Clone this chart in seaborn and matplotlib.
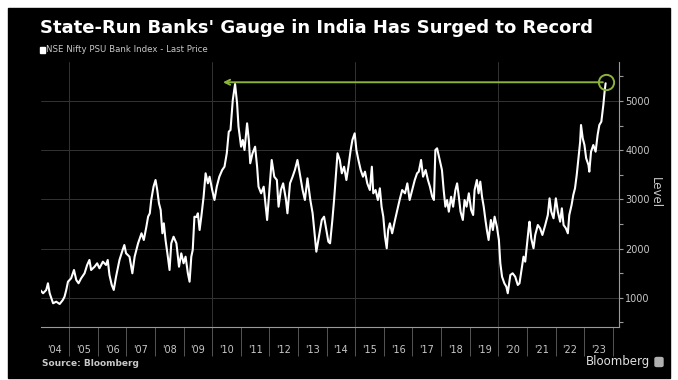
import matplotlib
matplotlib.use("Agg")
import matplotlib.pyplot as plt
import matplotlib.patches as mpatches
import seaborn as sns
import pandas as pd

W, H = 678, 380

# NSE Nifty PSU Bank Index (decimal year, level)
years = [
    2004.00, 2004.09, 2004.20, 2004.26, 2004.32, 2004.44, 2004.55, 2004.67, 2004.78, 2004.84, 2004.90, 2004.96,
    2005.07, 2005.17, 2005.25, 2005.33, 2005.42, 2005.54, 2005.63, 2005.71, 2005.77, 2005.89, 2005.98,
    2006.06, 2006.18, 2006.29, 2006.35, 2006.41, 2006.49, 2006.56, 2006.64, 2006.76, 2006.87, 2006.93, 2006.99,
    2007.11, 2007.21, 2007.29, 2007.41, 2007.53, 2007.61, 2007.70, 2007.76, 2007.82, 2007.87, 2007.95,
    2008.02, 2008.08, 2008.14, 2008.20, 2008.26, 2008.31, 2008.37, 2008.45, 2008.51, 2008.57, 2008.65, 2008.75,
    2008.84, 2008.92,
    2009.00, 2009.07, 2009.15, 2009.21, 2009.27, 2009.32, 2009.38, 2009.45, 2009.50, 2009.56, 2009.62, 2009.70,
    2009.77, 2009.85, 2009.91,
    2010.00, 2010.08, 2010.16, 2010.25, 2010.35, 2010.43, 2010.51, 2010.58, 2010.64, 2010.72, 2010.80, 2010.87,
    2010.92,
    2011.01, 2011.07, 2011.13, 2011.22, 2011.28, 2011.33, 2011.41, 2011.50, 2011.57, 2011.62, 2011.71, 2011.80,
    2011.86, 2011.92,
    2012.00, 2012.08, 2012.17, 2012.26, 2012.32, 2012.40, 2012.48, 2012.58, 2012.63, 2012.72, 2012.81, 2012.89,
    2012.98,
    2013.08, 2013.16, 2013.24, 2013.33, 2013.43, 2013.51, 2013.59, 2013.64, 2013.74, 2013.83, 2013.91, 2013.97,
    2014.06, 2014.12, 2014.20, 2014.26, 2014.32, 2014.38, 2014.46, 2014.53, 2014.61, 2014.69, 2014.76, 2014.84,
    2014.90, 2014.98,
    2015.04, 2015.11, 2015.19, 2015.27, 2015.34, 2015.42, 2015.51, 2015.58, 2015.63, 2015.71, 2015.79, 2015.86,
    2015.92, 2015.98,
    2016.04, 2016.10, 2016.15, 2016.21, 2016.29, 2016.39, 2016.47, 2016.55, 2016.64, 2016.74, 2016.82, 2016.90,
    2016.99,
    2017.08, 2017.16, 2017.22, 2017.30, 2017.37, 2017.46, 2017.54, 2017.61, 2017.69, 2017.75, 2017.80, 2017.86,
    2017.95,
    2018.03, 2018.09, 2018.15, 2018.21, 2018.27, 2018.35, 2018.42, 2018.50, 2018.56, 2018.62, 2018.68, 2018.76,
    2018.82, 2018.89, 2018.97,
    2019.05, 2019.12, 2019.17, 2019.25, 2019.31, 2019.37, 2019.43, 2019.49, 2019.55, 2019.60, 2019.66, 2019.74,
    2019.81, 2019.87, 2019.95,
    2020.02, 2020.07, 2020.13, 2020.21, 2020.28, 2020.33, 2020.42, 2020.50, 2020.59, 2020.68, 2020.74, 2020.82,
    2020.88, 2020.94,
    2021.00, 2021.06, 2021.09, 2021.15, 2021.23, 2021.29, 2021.38, 2021.46, 2021.54, 2021.64, 2021.73, 2021.79,
    2021.85, 2021.93,
    2022.01, 2022.08, 2022.16, 2022.22, 2022.28, 2022.36, 2022.43, 2022.48, 2022.56, 2022.62, 2022.68, 2022.74,
    2022.80, 2022.86, 2022.89, 2022.95,
    2023.01, 2023.07, 2023.15, 2023.18, 2023.24, 2023.32, 2023.40, 2023.47, 2023.53, 2023.60, 2023.67, 2023.72,
    2023.75,
]
level = [
    1150, 1090, 1156, 1293, 1090, 886, 919, 872, 953, 1020, 1157, 1325,
    1394, 1563, 1360, 1293, 1394, 1496, 1665, 1767, 1563, 1630, 1699,
    1598, 1732, 1665, 1767, 1461, 1258, 1157, 1427, 1767, 1970, 2071, 1903,
    1834, 1496, 1834, 2106, 2309, 2173, 2443, 2647, 2716, 2986, 3257,
    3393, 3189, 2919, 2783, 2309, 2512, 2173, 1834, 1563, 2106, 2240, 2106,
    1630, 1902,
    1699, 1834, 1496, 1325, 1834, 1970, 2647, 2640, 2716, 2376, 2647, 3053,
    3529, 3325, 3460,
    3189, 2986, 3257, 3460, 3596, 3663, 3936, 4375, 4409, 5019, 5345, 4952,
    4477,
    4070, 4206, 4003, 4545, 4206, 3733, 3936, 4070, 3663, 3257, 3122, 3257,
    2919, 2580,
    3189, 3800, 3460, 3393, 2850, 3189, 3325, 2986, 2716, 3325, 3460, 3596,
    3800,
    3460, 3189, 2986, 3427, 2986, 2716, 2240, 1935, 2280, 2580, 2647, 2443,
    2139, 2106, 2580, 2986, 3460, 3936, 3800, 3529, 3663, 3393, 3663, 4003,
    4206, 4342,
    4003, 3800, 3596, 3460, 3562, 3325, 3189, 3663, 3122, 3189, 2986, 3224,
    2850, 2647,
    2240, 2004, 2376, 2512, 2309, 2580, 2783, 2986, 3189, 3122, 3325, 2986,
    3189,
    3393, 3529, 3562, 3800, 3460, 3596, 3393, 3257, 3053, 2986, 4003, 4037,
    3800,
    3596, 3189, 2850, 2986, 2749, 3053, 2850, 3189, 3325, 3053, 2749, 2580,
    2986, 2850, 3122,
    2783, 2681, 3189, 3393, 3122, 3359, 3053, 2850, 2580, 2376, 2173, 2580,
    2376, 2647, 2443,
    2173, 1699, 1427, 1293, 1224, 1090, 1461, 1496, 1427, 1258, 1293, 1598,
    1834, 1732,
    2071, 2411, 2545, 2207, 2004, 2275, 2478, 2411, 2275, 2478, 2681, 3020,
    2749, 2614,
    3020, 2749, 2545, 2817, 2478, 2411, 2309, 2681, 2884, 3088, 3224, 3495,
    3834, 4172, 4511, 4240,
    4104, 3834, 3698, 3562, 3969, 4104, 3969, 4308, 4511, 4579, 4918, 5223,
    5359,
]
year_labels = ["'04", "'05", "'06", "'07", "'08", "'09", "'10", "'11", "'12", "'13",
               "'14", "'15", "'16", "'17", "'18", "'19", "'20", "'21", "'22", "'23"]
level_ticks = [1000, 2000, 3000, 4000, 5000]
record_level = 5380
arrow_tip_year = 2010.28

title = "State-Run Banks' Gauge in India Has Surged to Record"
legend_label = "NSE Nifty PSU Bank Index - Last Price"

df = pd.DataFrame({"year": years, "level": level})

GREEN = "#8db33a"
GRID = "#333333"
TXT = "#c8c8c8"
AXIS = "#9a9a9a"

sns.set_theme(style="dark")
plt.rcParams['font.family'] = ['DejaVu Sans']

fig = plt.figure(figsize=(W / 100, H / 100), dpi=100, facecolor="white")


def fx(px):
    return px / W


def fy(py):
    return 1 - py / H


# black card behind everything
fig.patches.append(mpatches.Rectangle((fx(8), fy(378)), fx(662), 370 / H,
                                      transform=fig.transFigure, color="black", zorder=-5))

ax = fig.add_axes([fx(40.5), fy(327), fx(578), 265 / H])
ax.set_facecolor("black")

sns.lineplot(data=df, x="year", y="level", ax=ax, color="white", lw=1.5, zorder=3)

ax.set_xlim(2004.0, 2024.2)
ax.set_ylim(404, 5792)

# gridlines
ax.grid(False)
for v in level_ticks:
    ax.axhline(v, color=GRID, lw=0.7, zorder=1)
for y in range(2005, 2021, 5):
    ax.axvline(y, color=GRID, lw=0.7, zorder=1)

for s in ["top", "left"]:
    ax.spines[s].set_visible(False)
for s in ["right", "bottom"]:
    ax.spines[s].set_color(AXIS)
    ax.spines[s].set_linewidth(0.8)

# y axis on the right
ax.yaxis.tick_right()
ax.set_yticks(level_ticks)
ax.set_yticklabels([str(v) for v in level_ticks])
ax.set_yticks(list(range(500, 5501, 500)), minor=True)
ax.tick_params(axis="y", which="both", length=3, width=0.8, color=AXIS,
               labelsize=7, labelcolor=TXT, pad=2, right=True, left=False)
ax.set_ylabel("")

# x axis: separators at year starts, labels mid-year
ax.set_xticks(list(range(2005, 2025)))
ax.set_xticklabels([])
ax.set_xticks([2004.5 + i for i in range(len(year_labels))], minor=True)
ax.set_xticklabels(year_labels, minor=True)
ax.tick_params(axis="x", which="major", length=21, width=0.7, color="#555555", bottom=True)
ax.tick_params(axis="x", which="minor", length=0, labelsize=7, labelcolor=TXT, pad=13)
ax.set_xlabel("")

# record marker and arrow back to 2010 peak
ax.annotate("", xy=(arrow_tip_year, record_level), xytext=(years[-1], record_level),
            arrowprops=dict(arrowstyle="->", color=GREEN, lw=1.4, mutation_scale=9),
            zorder=4)
ax.plot([years[-1]], [record_level], marker="o", ms=11, mfc="none", mec=GREEN, mew=1.4, zorder=5)

fig.text(fx(655), fy(193), "Level", rotation=270, color=TXT, fontsize=8.5,
         ha="center", va="center")

fig.text(fx(40), fy(28), title, color="white", fontsize=13, fontweight="bold",
         ha="left", va="center")
fig.patches.append(mpatches.Rectangle((fx(40), fy(52.5)), fx(5), 5 / H,
                                      transform=fig.transFigure, color="white"))
fig.text(fx(46.5), fy(50), legend_label, color=TXT, fontsize=6.2, ha="left", va="center")

fig.text(fx(42), fy(363), "Source: Bloomberg", color=TXT, fontsize=6.5, fontweight="bold",
         ha="left", va="center")
fig.text(fx(650), fy(362), "Bloomberg", color="#e0e0e0", fontsize=8.5, ha="right", va="center")
fig.patches.append(mpatches.FancyBboxPatch((fx(655), fy(366.5)), fx(8), 9 / H,
                                           boxstyle="round,pad=0,rounding_size=0.003",
                                           transform=fig.transFigure, color="#b0b0b0"))

fig.savefig("out.png", dpi=100, facecolor="white")
